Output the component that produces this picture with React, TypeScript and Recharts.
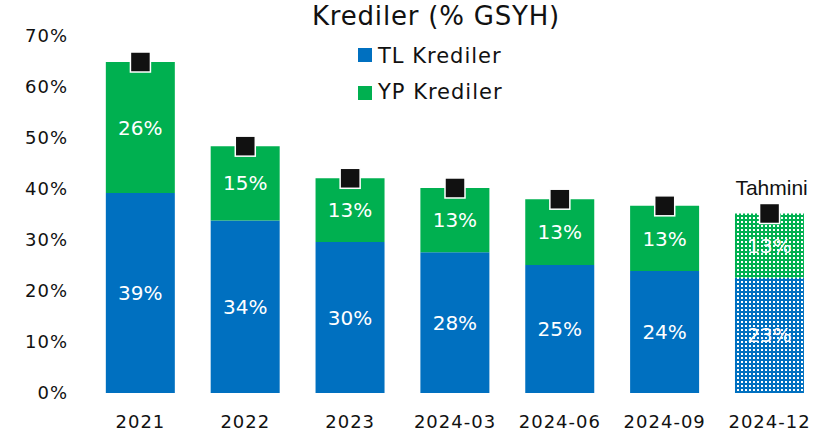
import React from 'react';
import { ComposedChart, Bar, Line, XAxis, YAxis, LabelList, Cell } from 'recharts';

const categories = ['2021', '2022', '2023', '2024-03', '2024-06', '2024-09', '2024-12'];
const tlKrediler = [39.2, 33.8, 29.6, 27.6, 25.1, 23.9, 22.6];
const ypKrediler = [25.7, 14.6, 12.5, 12.6, 12.9, 12.8, 12.6];
const notes = ['', '', '', '', '', '', 'Tahmini'];
const forecast = [false, false, false, false, false, false, true];
const yTicks = [0, 10, 20, 30, 40, 50, 60, 70];

const BLUE = '#0070C0';
const GREEN = '#00B050';
const FONT = '"DejaVu Sans", sans-serif';

const data = categories.map((c, i) => ({
  name: c,
  tl: tlKrediler[i],
  yp: ypKrediler[i],
  total: +(tlKrediler[i] + ypKrediler[i]).toFixed(1),
  note: notes[i],
  forecast: forecast[i],
}));

const Marker = (props: any) => {
  const { cx, cy } = props;
  if (cx == null || cy == null) return null;
  return <rect x={cx - 10} y={cy - 10} width={20} height={20} fill="#111111" stroke="#ffffff" strokeWidth={1.5} />;
};

const NoteLabel = (props: any) => {
  const { x, y, value } = props;
  if (!value) return null;
  return (
    <text x={x + 2} y={y - 18.5} textAnchor="middle" fontSize={21} fontFamily='"Liberation Sans", Arial, sans-serif' fill="#111">
      {value}
    </text>
  );
};

const pct = (v: any) => `${Math.round(Number(v))}%`;

const tickStyle = { fontSize: 18, fill: '#111', fontFamily: FONT, style: { letterSpacing: '1px' } };

export default function App() {
  return (
    <div style={{ position: 'absolute', left: 0, top: 0, width: 823, height: 435 }}>
      <ComposedChart
        width={823}
        height={435}
        data={data}
        margin={{ top: 36, right: 1, bottom: 12, left: 0 }}
        barCategoryGap="17%"
      >
        <defs>
          <pattern id="dotBlue" width={4} height={4} patternUnits="userSpaceOnUse">
            <rect width={4} height={4} fill={BLUE} />
            <rect x={1} y={1} width={2} height={2} fill="#ffffff" />
          </pattern>
          <pattern id="dotGreen" width={4} height={4} patternUnits="userSpaceOnUse">
            <rect width={4} height={4} fill={GREEN} />
            <rect x={1} y={1} width={2} height={2} fill="#ffffff" />
          </pattern>
        </defs>
        <XAxis
          dataKey="name"
          axisLine={false}
          tickLine={false}
          tickSize={0}
          tickMargin={22}
          height={30}
          interval={0}
          tick={tickStyle}
        />
        <YAxis
          domain={[0, 70]}
          ticks={yTicks}
          axisLine={false}
          tickLine={false}
          tickSize={0}
          tickMargin={20}
          width={88}
          tickFormatter={(v: number) => `${v}%`}
          tick={tickStyle}
        />
        <Bar dataKey="tl" stackId="a" fill={BLUE} isAnimationActive={false}>
          {data.map((d, i) => (
            <Cell key={i} fill={d.forecast ? 'url(#dotBlue)' : BLUE} />
          ))}
          <LabelList dataKey="tl" position="center" formatter={pct} fill="#ffffff" fontSize={20} fontFamily={FONT} />
        </Bar>
        <Bar dataKey="yp" stackId="a" fill={GREEN} isAnimationActive={false}>
          {data.map((d, i) => (
            <Cell key={i} fill={d.forecast ? 'url(#dotGreen)' : GREEN} />
          ))}
          <LabelList dataKey="yp" position="center" formatter={pct} fill="#ffffff" fontSize={20} fontFamily={FONT} />
        </Bar>
        <Line
          dataKey="total"
          stroke="none"
          dot={<Marker />}
          activeDot={false}
          isAnimationActive={false}
        >
          <LabelList dataKey="note" content={<NoteLabel />} />
        </Line>
      </ComposedChart>
      <svg width={823} height={110} style={{ position: 'absolute', left: 0, top: 0, pointerEvents: 'none' }}>
        <text x={312} y={25} fontSize={26} fontFamily={FONT} fill="#111" style={{ letterSpacing: '0.8px' }}>
          Krediler (% GSYH)
        </text>
        <rect x={358} y={48} width={14} height={14} fill={BLUE} />
        <text x={378} y={63} fontSize={21} fontFamily={FONT} fill="#111" style={{ letterSpacing: '1px' }}>
          TL Krediler
        </text>
        <rect x={358} y={86} width={14} height={14} fill={GREEN} />
        <text x={378} y={99} fontSize={21} fontFamily={FONT} fill="#111" style={{ letterSpacing: '1px' }}>
          YP Krediler
        </text>
      </svg>
    </div>
  );
}
